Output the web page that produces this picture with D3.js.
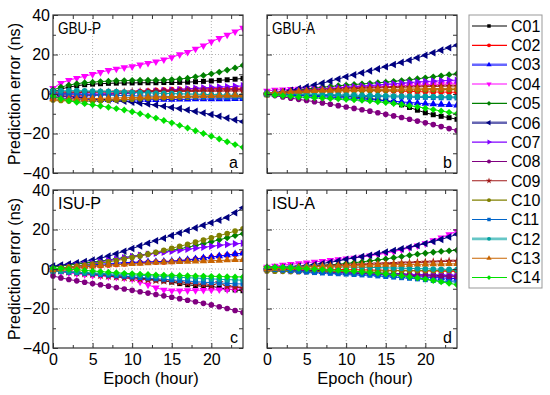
<!DOCTYPE html>
<html>
<head>
<meta charset="utf-8">
<script src="https://cdn.jsdelivr.net/npm/d3@7"></script>
<style>
  body { margin: 0; background: #fff; }
  svg { display: block; font-family: "Liberation Sans", Arial, sans-serif; }
</style>
</head>
<body>
<svg id="chart" width="550" height="395"></svg>
<script>
const hours = [0, 1, 2, 3, 4, 5, 6, 7, 8, 9, 10, 11, 12, 13, 14, 15, 16, 17, 18, 19, 20, 21, 22, 23, 24];
const sats = ['C01', 'C02', 'C03', 'C04', 'C05', 'C06', 'C07', 'C08', 'C09', 'C10', 'C11', 'C12', 'C13', 'C14'];
const xTicks = [0, 5, 10, 15, 20];
const yTicks = [-40, -20, 0, 20, 40];

// prediction error (ns), one row per satellite C01..C14, one value per hour
const gbuP = [
  [1, 2.5, 3.5, 4.2, 4.7, 5, 5.2, 5.4, 5.5, 5.6, 5.6, 5.7, 5.7, 5.7, 5.8, 5.8, 5.9, 6, 6.2, 6.4, 6.6, 6.9, 7.2, 7.5, 7.9],
  [0, -0.3, -0.5, -0.6, -0.6, -0.5, -0.3, 0, 0.3, 0.6, 0.9, 1.2, 1.5, 1.8, 2, 2.2, 2.4, 2.5, 2.6, 2.7, 2.7, 2.8, 2.8, 2.9, 2.9],
  [-1.5, -2, -2.3, -2.5, -2.7, -2.8, -2.9, -3, -3, -3, -3, -3, -2.9, -2.9, -2.8, -2.8, -2.7, -2.7, -2.6, -2.6, -2.5, -2.5, -2.5, -2.4, -2.4],
  [3, 5.5, 7, 8, 9, 10, 11, 12, 12.7, 13.4, 13.9, 14.8, 15.6, 16.4, 17.4, 18.5, 20, 21.2, 22.8, 24.5, 26.5, 28.2, 29.9, 31.6, 33.4],
  [2, 3.5, 4.5, 5.2, 5.7, 6, 6.3, 6.5, 6.7, 6.8, 6.9, 7, 7, 7, 7.1, 7.3, 7.6, 8, 8.7, 9.4, 10.2, 11.1, 12.1, 13.2, 14.5],
  [0, -0.8, -1.3, -1.7, -2, -2.3, -2.6, -3, -3.3, -3.7, -4.1, -4.6, -5.1, -5.6, -6.2, -6.8, -7.4, -8.1, -8.8, -9.6, -10.4, -11.3, -12.2, -13.1, -14],
  [0.5, 0.3, 0.2, 0.1, 0, 0, 0, 0.1, 0.2, 0.3, 0.5, 0.8, 1.1, 1.4, 1.7, 2, 2.3, 2.6, 2.9, 3.1, 3.3, 3.5, 3.7, 3.9, 4.1],
  [-1, -1.2, -1.3, -1.2, -1, -0.8, -0.5, -0.2, 0.1, 0.4, 0.7, 0.9, 1.1, 1.3, 1.5, 1.6, 1.7, 1.8, 1.9, 2, 2, 2.1, 2.1, 2.2, 2.2],
  [0.5, 0.6, 0.7, 0.7, 0.8, 0.8, 0.9, 0.9, 1, 1, 1, 1.1, 1.1, 1.2, 1.2, 1.2, 1.3, 1.3, 1.3, 1.4, 1.4, 1.4, 1.5, 1.5, 1.5],
  [-3, -3.3, -3.5, -3.6, -3.6, -3.5, -3.4, -3.2, -3, -2.8, -2.6, -2.4, -2.2, -2, -1.9, -1.8, -1.7, -1.6, -1.5, -1.5, -1.4, -1.4, -1.3, -1.3, -1.2],
  [0, 0, -0.1, -0.2, -0.3, -0.4, -0.5, -0.6, -0.7, -0.8, -0.9, -1, -1, -1.1, -1.2, -1.2, -1.3, -1.3, -1.4, -1.4, -1.5, -1.5, -1.6, -1.6, -1.7],
  [1.5, 1.6, 1.7, 1.7, 1.6, 1.5, 1.4, 1.3, 1.2, 1, 0.9, 0.7, 0.6, 0.4, 0.3, 0.2, 0.1, 0, -0.1, -0.2, -0.3, -0.4, -0.5, -0.6, -0.7],
  [-2.5, -2.6, -2.6, -2.5, -2.4, -2.3, -2.2, -2.1, -2, -1.9, -1.8, -1.7, -1.6, -1.5, -1.4, -1.3, -1.2, -1.1, -1, -0.9, -0.9, -0.8, -0.8, -0.7, -0.7],
  [-1, -2.5, -3.4, -4.2, -4.9, -5.5, -6.1, -6.7, -7.4, -8.1, -9, -10, -11.1, -12.2, -13.4, -14.6, -15.9, -17.2, -18.6, -20, -21.4, -22.8, -24.2, -25.6, -27],
];

const gbuA = [
  [0, -0.2, -0.3, -0.4, -0.5, -0.6, -0.7, -0.8, -0.9, -1, -1.2, -1.5, -1.8, -2.3, -2.8, -3.4, -4.3, -5.5, -6.8, -8.2, -9.5, -10.5, -11.3, -12, -12.8],
  [0, 0.3, 0.6, 0.9, 1.1, 1.3, 1.5, 1.6, 1.7, 1.8, 1.8, 1.8, 1.8, 1.7, 1.7, 1.6, 1.5, 1.4, 1.3, 1.2, 1.1, 1, 1, 0.9, 0.9],
  [0, -0.2, -0.4, -0.6, -0.8, -1, -1.2, -1.4, -1.6, -1.8, -2, -2.2, -2.5, -2.8, -3.1, -3.4, -3.7, -4, -4.3, -4.6, -4.9, -5.1, -5.3, -5.5, -5.7],
  [1.5, 2, 2.2, 2.4, 2.5, 2.6, 2.7, 2.8, 2.9, 3, 3.1, 3.2, 3.3, 3.4, 3.5, 3.7, 3.9, 4.1, 4.3, 4.5, 4.7, 4.9, 5, 5.1, 5.2],
  [0, 0.5, 1, 1.5, 2, 2.5, 3, 3.4, 3.8, 4.2, 4.5, 4.8, 5.1, 5.4, 5.7, 6, 6.4, 6.8, 7.2, 7.7, 8.2, 8.7, 9.2, 9.8, 10.3],
  [0, 0.6, 1.2, 1.9, 2.7, 3.6, 4.5, 5.5, 6.5, 7.6, 8.7, 9.7, 10.7, 11.7, 12.7, 13.8, 14.9, 16, 17.1, 18.3, 19.6, 20.9, 22.2, 23.4, 24.7],
  [0.5, 0.8, 1, 1.3, 1.6, 1.9, 2.2, 2.5, 2.8, 3.1, 3.4, 3.7, 4, 4.3, 4.6, 4.9, 5.2, 5.5, 5.8, 6.1, 6.3, 6.5, 6.7, 6.9, 7],
  [0, -0.8, -1.5, -2.1, -2.7, -3.3, -3.9, -4.5, -5.2, -5.9, -6.6, -7.3, -8, -8.7, -9.5, -10.3, -11.1, -11.9, -12.8, -13.7, -14.6, -15.5, -16.5, -17.5, -18.5],
  [0, 0.3, 0.6, 0.9, 1.2, 1.5, 1.7, 1.9, 2.1, 2.3, 2.5, 2.7, 2.9, 3, 3.1, 3.2, 3.3, 3.4, 3.5, 3.6, 3.7, 3.8, 3.9, 4, 4],
  [-0.5, -0.3, 0, 0.3, 0.6, 0.9, 1.1, 1.3, 1.4, 1.5, 1.6, 1.7, 1.8, 1.8, 1.9, 1.9, 2, 2, 2.1, 2.1, 2.2, 2.2, 2.2, 2.3, 2.3],
  [0, -0.1, -0.2, -0.3, -0.4, -0.5, -0.6, -0.7, -0.8, -0.9, -1, -1.1, -1.2, -1.3, -1.3, -1.4, -1.5, -1.5, -1.6, -1.7, -1.7, -1.8, -1.9, -1.9, -2],
  [0.5, 0.4, 0.3, 0.2, 0.1, 0, -0.1, -0.2, -0.3, -0.4, -0.5, -0.6, -0.7, -0.8, -0.8, -0.9, -1, -1, -1.1, -1.2, -1.2, -1.3, -1.4, -1.4, -1.5],
  [0.5, 0.7, 0.9, 1.1, 1.3, 1.5, 1.6, 1.7, 1.8, 1.9, 2, 2.1, 2.2, 2.2, 2.3, 2.4, 2.4, 2.5, 2.6, 2.6, 2.7, 2.8, 2.8, 2.9, 3],
  [0, -0.5, -0.9, -1.2, -1.5, -1.7, -1.9, -2.1, -2.3, -2.5, -2.7, -2.9, -3.2, -3.5, -3.9, -4.3, -4.8, -5.3, -5.9, -6.5, -7.2, -7.9, -8.6, -9.3, -10],
];

const isuP = [
  [-1, -1.3, -1.6, -1.9, -2.2, -2.5, -2.8, -3.1, -3.4, -3.8, -4.2, -4.6, -5, -5.5, -6, -6.6, -7.4, -8, -8.4, -8.8, -8.7, -9.6, -10.2, -10.6, -11],
  [0, 0.2, 0.5, 0.8, 1.1, 1.4, 1.7, 2, 2.3, 2.6, 2.9, 3.2, 3.4, 3.5, 3.6, 3.8, 4.1, 4.5, 5, 5.5, 6, 6.5, 7, 7.5, 8.1],
  [0, 0.5, 1, 1.4, 1.8, 2.1, 2.4, 2.7, 3, 3.2, 3.4, 3.5, 3.6, 3.7, 3.8, 4, 4.3, 4.7, 5.1, 5.6, 6.1, 6.6, 7.1, 7.6, 8],
  [-1, -1.5, -2, -2.4, -2.8, -3.2, -3.5, -3.8, -4.1, -4.5, -5, -6.5, -8, -9.5, -10.6, -11, -11, -10.9, -10.8, -10.7, -10.6, -10.5, -10.4, -10.3, -10.2],
  [1, 1.5, 2, 2.5, 3, 3.5, 4, 4.6, 5.2, 5.8, 6.4, 7, 7.6, 8.2, 8.8, 9.5, 10.2, 11, 11.9, 12.8, 13.8, 14.8, 15.8, 16.9, 17.9],
  [1.5, 2, 2.5, 3.2, 3.8, 4.5, 5.5, 6.5, 7.7, 9, 10.4, 11.7, 13, 14.3, 15.6, 16.9, 18.2, 19.5, 20.8, 22.1, 23.4, 24.7, 26.1, 28.5, 31],
  [0, 0.5, 1, 1.6, 2.2, 2.9, 3.6, 4.3, 5, 5.7, 6.3, 6.9, 7.5, 8, 8.5, 9, 9.5, 10, 10.5, 11, 11.5, 12, 12.4, 12.8, 13],
  [-3.5, -4.5, -5.3, -6, -6.7, -7.4, -8, -8.7, -9.4, -10.1, -10.8, -11.5, -12.2, -12.9, -13.6, -14.3, -15, -15.8, -16.6, -17.4, -18.2, -19.1, -20, -21, -22],
  [-0.5, -1, -1.5, -2, -2.4, -2.8, -3.2, -3.6, -4, -4.4, -4.8, -5.2, -5.5, -5.8, -6.1, -6.4, -6.8, -7.2, -7.6, -8, -8.4, -7, -8.8, -9.2, -9.6],
  [0, 0.5, 1, 1.5, 2, 2.5, 3, 3.6, 4.3, 5, 5.8, 6.6, 7.5, 8.5, 9.5, 10.5, 11.5, 12.5, 13.6, 14.7, 15.8, 16.9, 18, 19.2, 20.4],
  [-1, -1.3, -1.6, -1.9, -2.2, -2.5, -2.8, -3.1, -3.4, -3.7, -4, -4.3, -4.6, -4.9, -5.2, -5.5, -5.8, -6.1, -6.4, -6.7, -6.9, -7.1, -7.3, -7.5, -7.6],
  [-1, -1.2, -1.4, -1.6, -1.8, -2, -2.2, -2.4, -2.6, -2.8, -3, -3.2, -3.4, -3.6, -3.8, -4, -4.2, -4.4, -4.6, -4.8, -5, -5.2, -5.4, -5.5, -5.7],
  [-0.5, 0, 0.4, 0.8, 1.2, 1.5, 1.8, 2, 2.2, 2.4, 2.6, 2.8, 3, 3.2, 3.4, 3.5, 3.6, 3.8, 3.9, 4, 4.2, 4.3, 4.5, 4.6, 4.7],
  [0.5, 0.2, -0.1, -0.4, -0.7, -1, -1.3, -1.6, -1.9, -2.2, -2.4, -2.6, -2.8, -3, -3.1, -3.2, -3.3, -3.4, -3.5, -3.6, -3.7, -3.8, -3.9, -4, -4],
];

const isuA = [
  [0, -0.1, -0.3, -0.4, -0.5, -0.6, -0.8, -0.9, -1, -1.2, -1.3, -1.5, -1.6, -1.8, -2, -2.1, -2.3, -2.5, -2.7, -2.9, -3, -3.2, -3.3, -3.5, -3.6],
  [0, 0, 0.1, 0.1, 0.1, 0, 0, -0.1, -0.2, -0.2, -0.3, -0.4, -0.4, -0.5, -0.6, -0.6, -0.7, -0.8, -0.8, -0.9, -1, -1, -1.1, -1.2, -1.2],
  [0, -0.2, -0.4, -0.6, -0.8, -1, -1.2, -1.4, -1.6, -1.8, -2, -2.2, -2.4, -2.6, -2.8, -3.1, -3.3, -3.5, -3.7, -3.9, -4.1, -4.3, -4.5, -4.7, -4.9],
  [1, 1.5, 2, 2.4, 2.8, 3.2, 3.6, 4, 4.4, 4.8, 5.2, 5.6, 6.1, 6.7, 7.3, 8, 8.8, 9.7, 10.7, 11.8, 13, 14.4, 15.9, 17.5, 19.2],
  [0, 0.2, 0.4, 0.6, 0.9, 1.2, 1.5, 1.8, 2.1, 2.4, 2.8, 3.2, 3.6, 4.1, 4.6, 5.1, 5.7, 6.3, 6.9, 7.5, 8, 8.5, 8.9, 9.2, 9.5],
  [0, 0.3, 0.6, 1, 1.4, 1.8, 2.3, 2.8, 3.4, 4.1, 4.9, 5.6, 6.3, 7, 7.8, 8.6, 9.4, 10.2, 11, 11.9, 12.9, 13.9, 15, 16.2, 17.6],
  [-0.5, -0.6, -0.7, -0.8, -1, -1.1, -1.2, -1.4, -1.5, -1.6, -1.8, -1.9, -2, -2.1, -2.3, -2.4, -2.5, -2.6, -2.7, -2.8, -2.9, -3, -3, -3.1, -3.1],
  [0, -0.2, -0.4, -0.6, -0.8, -1, -1.2, -1.4, -1.6, -1.8, -2, -2.1, -2.3, -2.4, -2.6, -2.8, -2.9, -3.1, -3.2, -3.4, -3.5, -3.7, -3.8, -3.9, -4],
  [0.5, 0.6, 0.8, 0.9, 1, 1.2, 1.3, 1.5, 1.6, 1.8, 1.9, 2.1, 2.2, 2.4, 2.5, 2.7, 2.8, 3, 3.1, 3.3, 3.4, 3.6, 3.7, 3.9, 4],
  [-1, -1.1, -1.2, -1.3, -1.4, -1.4, -1.4, -1.4, -1.3, -1.3, -1.2, -1.2, -1.1, -1.1, -1, -1, -0.9, -0.9, -0.9, -0.8, -0.8, -0.8, -0.7, -0.7, -0.7],
  [0, -0.3, -0.6, -0.9, -1.2, -1.5, -1.8, -2, -2.2, -2.4, -2.6, -2.8, -3, -3.2, -3.5, -3.8, -4.1, -4.4, -4.7, -5, -5.4, -5.8, -6.1, -6.4, -6.6],
  [0.5, 0.7, 0.9, 1, 1.1, 1.2, 1.2, 1.2, 1.2, 1.1, 1.1, 1, 0.9, 0.8, 0.7, 0.6, 0.5, 0.4, 0.3, 0.2, 0.1, 0, -0.1, -0.2, -0.3],
  [0, 0.2, 0.4, 0.6, 0.8, 1, 1.2, 1.3, 1.5, 1.6, 1.7, 1.8, 1.9, 2, 2.1, 2.2, 2.2, 2.3, 2.3, 2.4, 2.4, 2.5, 2.5, 2.6, 2.6],
  [1, 0.9, 0.7, 0.5, 0.3, 0.1, -0.1, -0.3, -0.5, -0.7, -0.9, -1.2, -1.5, -1.8, -2.1, -2.5, -2.9, -3.4, -3.9, -4.5, -5.1, -5.8, -6.5, -7.2, -8],
];

const colors = ['#000000', '#ff0000', '#0000ff', '#ff00ff', '#008000', '#000080', '#8000ff',
  '#800080', '#a01818', '#808000', '#0064c8', '#00a0a0', '#c86400', '#00e000'];
const shapes = ['square', 'circle', 'up', 'down', 'diamond', 'left', 'right',
  'circle', 'star', 'circle', 'square', 'circle', 'up', 'diamond'];
// legend lines drawn broad and pale for these three
const broad = ['C03', 'C06', 'C12'];

const FONT = 16;
const svg = d3.select('#chart');
const pw = 190;
const ph = 158;

const panels = [
  { data: gbuP, name: 'GBU-P', tag: 'a', left: 53, top: 15, yLab: true, xLab: false },
  { data: gbuA, name: 'GBU-A', tag: 'b', left: 267, top: 15, yLab: false, xLab: false },
  { data: isuP, name: 'ISU-P', tag: 'c', left: 53, top: 190, yLab: true, xLab: true },
  { data: isuA, name: 'ISU-A', tag: 'd', left: 267, top: 190, yLab: false, xLab: true },
];

function translate(x, y) {
  return `translate(${x},${y})`;
}

function marker(kind, size) {
  const rot = { down: 180, left: -90, right: 90 }[kind] || 0;
  let type = d3.symbolCircle;
  if (kind === 'square') type = d3.symbolSquare;
  else if (['up', 'down', 'left', 'right'].includes(kind)) type = d3.symbolTriangle;
  else if (kind === 'diamond') type = d3.symbolDiamond2;
  else if (kind === 'star') type = d3.symbolStar;
  return { d: d3.symbol(type, kind === 'diamond' ? size * 1.2 : size)(), rot };
}

const x = d3.scaleLinear().domain([0, 24]).range([0, pw]);
const y = d3.scaleLinear().domain([-40, 40]).range([ph, 0]);

panels.forEach((p, pi) => {
  const g = svg.append('g').attr('transform', translate(p.left, p.top));

  // dotted grid
  g.append('g').selectAll('line').data(xTicks.slice(1))
    .join('line')
    .attr('x1', d => x(d)).attr('x2', d => x(d))
    .attr('y1', 0).attr('y2', ph)
    .attr('stroke', '#b4b4b4').attr('stroke-dasharray', '1,2');
  g.append('g').selectAll('line').data([-20, 0, 20])
    .join('line')
    .attr('y1', d => y(d)).attr('y2', d => y(d))
    .attr('x1', 0).attr('x2', pw)
    .attr('stroke', '#b4b4b4').attr('stroke-dasharray', '1,2');

  const clipId = `clip${pi}`;
  g.append('clipPath').attr('id', clipId)
    .append('rect').attr('x', -4).attr('y', 0).attr('width', pw + 4).attr('height', ph);

  const plot = g.append('g').attr('clip-path', `url(#${clipId})`);
  const line = d3.line().x((d, i) => x(hours[i])).y(d => y(d));

  p.data.forEach((vals, si) => {
    const s = plot.append('g');
    s.append('path')
      .attr('d', line(vals))
      .attr('fill', 'none')
      .attr('stroke', colors[si])
      .attr('stroke-width', 1);
    const m = marker(shapes[si], 25);
    s.selectAll('path.m').data(vals)
      .join('path')
      .attr('class', 'm')
      .attr('d', m.d)
      .attr('transform', (d, i) => `${translate(x(hours[i]), y(d))} rotate(${m.rot})`)
      .attr('fill', colors[si]);
  });

  // axes with inward ticks on all four sides
  const styleAxis = sel => {
    sel.select('.domain').remove();
    sel.selectAll('.tick line').attr('stroke', '#333');
    sel.selectAll('text').attr('font-size', FONT).attr('fill', '#000')
      .attr('font-family', '"Liberation Sans", Arial, sans-serif');
  };
  const minorX = [2.5, 7.5, 12.5, 17.5, 22.5];
  const minorY = [-30, -10, 10, 30];

  g.append('g').attr('transform', translate(0, ph))
    .call(d3.axisBottom(x).tickValues(xTicks).tickSize(-5).tickSizeOuter(0).tickPadding(6)
      .tickFormat(p.xLab ? d3.format('d') : ''))
    .call(styleAxis);
  g.append('g').attr('transform', translate(0, ph))
    .call(d3.axisBottom(x).tickValues(minorX).tickSize(-3).tickSizeOuter(0).tickFormat(''))
    .call(styleAxis);
  g.append('g')
    .call(d3.axisTop(x).tickValues(xTicks.concat(minorX)).tickSize(-4).tickSizeOuter(0).tickFormat(''))
    .call(styleAxis);

  g.append('g')
    .call(d3.axisLeft(y).tickValues(yTicks).tickSize(-5).tickSizeOuter(0).tickPadding(3)
      .tickFormat(p.yLab ? d3.format('d') : ''))
    .call(styleAxis);
  g.append('g')
    .call(d3.axisLeft(y).tickValues(minorY).tickSize(-3).tickSizeOuter(0).tickFormat(''))
    .call(styleAxis);
  g.append('g').attr('transform', translate(pw, 0))
    .call(d3.axisRight(y).tickValues(yTicks.concat(minorY)).tickSize(-4).tickSizeOuter(0).tickFormat(''))
    .call(styleAxis);

  g.append('rect')
    .attr('width', pw).attr('height', ph)
    .attr('fill', 'none').attr('stroke', '#333').attr('stroke-width', 1.2);

  g.append('text')
    .attr('x', 5).attr('y', 19)
    .attr('font-size', FONT)
    .attr('textLength', 43).attr('lengthAdjust', 'spacingAndGlyphs')
    .text(p.name);
  g.append('text')
    .attr('x', pw - 5).attr('y', ph - 5)
    .attr('text-anchor', 'end')
    .attr('font-size', FONT).text(p.tag);

  if (p.yLab) {
    svg.append('text')
      .attr('transform', `${translate(20, p.top + ph / 2)} rotate(-90)`)
      .attr('text-anchor', 'middle')
      .attr('font-size', 16.5)
      .attr('textLength', 142).attr('lengthAdjust', 'spacingAndGlyphs')
      .text('Prediction error (ns)');
  }
  if (p.xLab) {
    svg.append('text')
      .attr('x', p.left + pw / 2 + 3).attr('y', 384)
      .attr('text-anchor', 'middle')
      .attr('font-size', 16.5)
      .text('Epoch (hour)');
  }
});

// legend
const lg = svg.append('g').attr('transform', translate(469, 15));
lg.append('rect')
  .attr('width', 73).attr('height', 273)
  .attr('fill', '#fff').attr('stroke', '#999').attr('stroke-width', 1);

const rows = lg.selectAll('g.row').data(sats)
  .join('g')
  .attr('class', 'row')
  .attr('transform', (d, i) => translate(0, 11 + i * 19.35));

rows.append('line')
  .attr('x1', 3).attr('x2', 38)
  .attr('stroke', (d, i) => colors[i])
  .attr('stroke-width', d => (broad.includes(d) ? 2.6 : 1.1))
  .attr('stroke-opacity', d => (broad.includes(d) ? 0.6 : 1));
rows.append('path')
  .attr('d', (d, i) => marker(shapes[i], 12).d)
  .attr('transform', (d, i) => `${translate(20, 0)} rotate(${marker(shapes[i], 12).rot})`)
  .attr('fill', (d, i) => colors[i]);
rows.append('text')
  .attr('x', 42).attr('dy', '0.36em')
  .attr('font-size', FONT)
  .text(d => d);
</script>
</body>
</html>
